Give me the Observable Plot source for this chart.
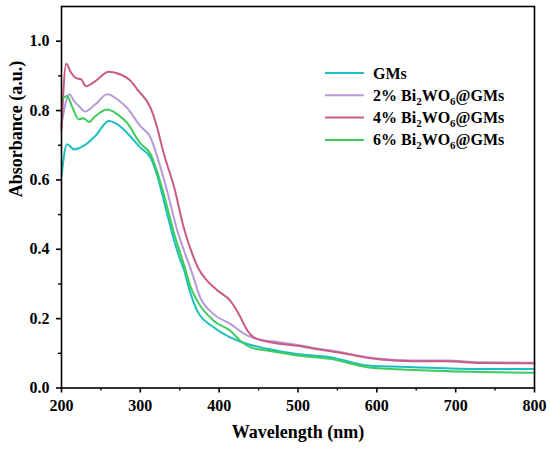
<!DOCTYPE html>
<html>
<head>
<meta charset="utf-8">
<script src="https://cdn.jsdelivr.net/npm/d3@7"></script>
<script src="https://cdn.jsdelivr.net/npm/@observablehq/plot@0.6"></script>
<style>
  html, body { margin: 0; padding: 0; background: #fff; }
</style>
</head>
<body>
<div id="chart"></div>
<script>
// ---- Data ----
const seriesNames = ["GMs", "2% Bi2WO6@GMs", "4% Bi2WO6@GMs", "6% Bi2WO6@GMs"];
const seriesColors = ["#1cbfc0", "#b89ad8", "#c95a84", "#3ecb5c"];

const gmsX = [200,207,216,228,243,260,271,283,300,313,321,332,343,351,355,362,372,393,414,436,461,499,541,588,647,732,800];
const gmsY = [0.611,0.703,0.688,0.698,0.727,0.770,0.760,0.736,0.693,0.664,0.616,0.520,0.424,0.367,0.343,0.285,0.223,0.175,0.146,0.127,0.113,0.098,0.089,0.065,0.060,0.055,0.055];

const bw2X = [200,210,216,222,230,243,258,271,283,300,313,323,334,347,357,364,376,393,414,436,452,470,500,530,550,588,605,647,690,732,800];
const bw2Y = [0.760,0.847,0.827,0.813,0.797,0.818,0.847,0.832,0.808,0.755,0.722,0.655,0.568,0.453,0.386,0.343,0.261,0.213,0.185,0.151,0.139,0.134,0.124,0.112,0.105,0.089,0.084,0.079,0.079,0.074,0.073];

const bw4X = [200,206,212,218,225,231,243,260,275,288,296,313,319,330,343,355,366,374,383,398,414,425,436,444,465,499,529,550,588,605,647,689,732,800];
const bw4Y = [0.745,0.935,0.910,0.894,0.890,0.870,0.885,0.912,0.904,0.885,0.861,0.808,0.770,0.674,0.578,0.463,0.386,0.343,0.314,0.281,0.252,0.213,0.165,0.146,0.132,0.122,0.110,0.103,0.087,0.082,0.077,0.077,0.072,0.071];

const bw6X = [200,207,214,222,228,235,243,258,271,283,300,313,321,332,343,351,357,364,372,393,414,429,440,461,499,541,588,647,732,800];
const bw6Y = [0.832,0.842,0.808,0.775,0.778,0.767,0.784,0.803,0.789,0.765,0.705,0.674,0.626,0.540,0.444,0.386,0.343,0.290,0.252,0.194,0.165,0.132,0.117,0.108,0.094,0.084,0.060,0.052,0.046,0.044];

const xMajorTicks = [200,300,400,500,600,700,800];
const xMinorTicks = [250,350,450,550,650,750];
const yMajorTicks = [0.0,0.2,0.4,0.6,0.8,1.0];
const yMinorTicks = [0.1,0.3,0.5,0.7,0.9];

const xTitle = "Wavelength (nm)";
const yTitle = "Absorbance (a.u.)";

// ---- Build table ----
const allX = [gmsX, bw2X, bw4X, bw6X];
const allY = [gmsY, bw2Y, bw4Y, bw6Y];
const rows = [];
allX.forEach((xs, i) => xs.forEach((x, j) => rows.push({series: seriesNames[i], x, y: allY[i][j]})));

const FONT = "'Liberation Serif', 'Times New Roman', serif";

const plot = Plot.plot({
  width: 550,
  height: 452,
  marginLeft: 61,
  marginRight: 16,
  marginTop: 6,
  marginBottom: 64.5,
  style: {fontFamily: FONT, fontSize: "16px", fontWeight: "bold", background: "#fff", color: "#000"},
  x: {domain: [200, 800]},
  y: {domain: [0, 1.1]},
  color: {domain: seriesNames, range: seriesColors},
  marks: [
    Plot.line(rows, {x: "x", y: "y", z: "series", stroke: "series", strokeWidth: 2, curve: "monotone-x"}),
    Plot.frame({stroke: "#000", strokeWidth: 1.6}),
    Plot.axisX({ticks: xMajorTicks, tickSize: 5, tickPadding: 7, strokeWidth: 1.6, label: null, tickFormat: d3.format("d")}),
    Plot.axisX({ticks: xMinorTicks, tickSize: 3, strokeWidth: 1.4, label: null, tickFormat: () => ""}),
    Plot.axisY({ticks: yMajorTicks, tickSize: 5, tickPadding: 7, strokeWidth: 1.6, label: null, tickFormat: d3.format(".1f")}),
    Plot.axisY({ticks: yMinorTicks, tickSize: 3, strokeWidth: 1.4, label: null, tickFormat: () => ""}),
    Plot.text([xTitle], {frameAnchor: "bottom", dy: 50, fontSize: 18, fontWeight: "bold", fill: "#000"}),
    Plot.text([yTitle], {frameAnchor: "left", dx: -45, rotate: -90, fontSize: 18, fontWeight: "bold", fill: "#000"})
  ]
});

// ---- Legend inside the plot (with subscripts) ----
const svg = d3.select(plot);
const lg = svg.append("g")
  .attr("font-family", FONT).attr("font-weight", "bold").attr("font-size", 16)
  .attr("text-anchor", "start").style("text-anchor", "start");
const legendRows = [
  [["GMs", false]],
  [["2% Bi", false], ["2", true], ["WO", false], ["6", true], ["@GMs", false]],
  [["4% Bi", false], ["2", true], ["WO", false], ["6", true], ["@GMs", false]],
  [["6% Bi", false], ["2", true], ["WO", false], ["6", true], ["@GMs", false]]
];
legendRows.forEach((parts, i) => {
  const yc = 73 + i * 22.3;
  lg.append("line").attr("x1", 325).attr("x2", 364).attr("y1", yc).attr("y2", yc)
    .attr("stroke", seriesColors[i]).attr("stroke-width", 2);
  const t = lg.append("text").attr("x", 373).attr("y", yc + 5.5).attr("fill", "#000")
    .style("text-anchor", "start");
  let prevSub = false;
  parts.forEach(([s, sub]) => {
    const ts = t.append("tspan").text(s);
    if (sub) { ts.attr("font-size", 11).attr("dy", 4); }
    else if (prevSub) { ts.attr("dy", -4); }
    prevSub = sub;
  });
});

document.getElementById("chart").appendChild(plot);
</script>
</body>
</html>
